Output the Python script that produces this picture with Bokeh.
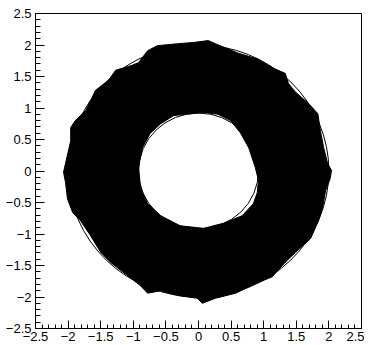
from bokeh.plotting import figure
from bokeh.models import Range1d, SingleIntervalTicker
from bokeh.embed import file_html
from bokeh.resources import INLINE

# Outer boundary of the dense point cloud
outer_x = [2.04, 1.98, 1.92, 1.87, 1.83, 1.69, 1.49, 1.38, 1.33, 1.13, 0.90, 0.61, 0.26, 0.15,
           -0.08, -0.32, -0.63, -0.78, -0.86, -0.92, -1.04, -1.27, -1.38, -1.58, -1.63,
           -1.73, -1.89, -1.96, -1.96, -2.04, -2.07, -2.04, -2.01, -1.93, -1.81, -1.66,
           -1.50, -1.35, -1.09, -0.89, -0.78, -0.58, -0.30, -0.02, 0.06, 0.26, 0.57, 0.87, 1.13,
           1.33, 1.49, 1.72, 1.84, 1.90, 1.95, 2.02]
outer_y = [0.01, 0.12, 0.37, 0.64, 0.91, 1.07, 1.25, 1.39, 1.55, 1.64, 1.78, 1.87, 2.02, 2.07,
           2.04, 2.02, 1.99, 1.91, 1.80, 1.72, 1.67, 1.60, 1.44, 1.28, 1.17,
           0.96, 0.80, 0.69, 0.48, 0.12, -0.02, -0.18, -0.44, -0.66, -0.79, -1.02,
           -1.29, -1.45, -1.66, -1.82, -1.94, -1.90, -1.98, -2.02, -2.10, -2.02, -1.94, -1.79, -1.68,
           -1.45, -1.29, -1.07, -0.79, -0.60, -0.31, -0.12]
# Inner boundary (hole)
inner_x = [0.92, 0.87, 0.77, 0.64, 0.49, 0.30, 0.08, -0.38, -0.58, -0.74, -0.86, -0.92, -0.89,
           -0.78, -0.58, -0.28, 0.08, 0.38, 0.67, 0.84, 0.90]
inner_y = [-0.15, 0.06, 0.37, 0.61, 0.80, 0.90, 0.93, 0.88, 0.75, 0.60, 0.37, 0.06, -0.26,
           -0.52, -0.71, -0.87, -0.91, -0.83, -0.71, -0.52, -0.35]

circle_r = [0.92, 2.0]

tick_vals = [-2.5, -2, -1.5, -1, -0.5, 0, 0.5, 1, 1.5, 2, 2.5]
tick_labels = ["\u22122.5", "\u22122", "\u22121.5", "\u22121", "\u22120.5", "0",
               "0.5", "1", "1.5", "2", "2.5"]

p = figure(width=364, height=345, output_backend="svg", toolbar_location=None,
           x_range=Range1d(-2.5, 2.5), y_range=Range1d(-2.5, 2.5),
           min_border_left=35, min_border_right=3, min_border_top=13, min_border_bottom=17)
p.background_fill_color = "white"
p.border_fill_color = "white"
p.outline_line_color = "black"
p.outline_line_width = 1
p.xgrid.visible = False
p.ygrid.visible = False

p.multi_polygons(xs=[[[outer_x, inner_x]]], ys=[[[outer_y, inner_y]]],
                 fill_color="black", line_color="black", line_width=1)

for r in circle_r:
    p.ellipse(x=0, y=0, width=2 * r, height=2 * r, fill_color=None,
              line_color="black", line_width=1)

overrides = {v: l for v, l in zip(tick_vals, tick_labels)}
for ax, mj, mn in ((p.xaxis[0], 8, 4), (p.yaxis[0], 9, 5)):
    ax.ticker = SingleIntervalTicker(interval=0.5, num_minor_ticks=5)
    ax.major_label_overrides = overrides
    ax.major_tick_in = mj
    ax.major_tick_out = 0
    ax.minor_tick_in = mn
    ax.minor_tick_out = 0
    ax.axis_line_color = "black"
    ax.major_tick_line_color = "black"
    ax.minor_tick_line_color = "black"
    ax.major_label_text_font = "Liberation Sans"
    ax.major_label_text_font_size = "13px"
    ax.major_label_text_color = "black"
p.xaxis.major_label_standoff = 3
p.yaxis.major_label_standoff = 4

open("out.html", "w").write(file_html(p, INLINE))
